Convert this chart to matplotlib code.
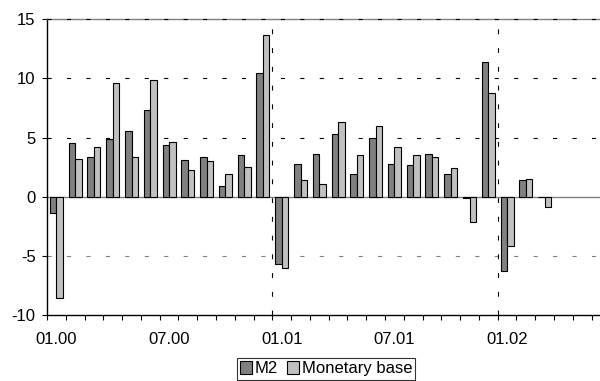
import matplotlib
matplotlib.use('Agg')
import matplotlib.pyplot as plt
import numpy as np

# monthly growth, % : Jan 2000 .. Mar 2002
m2 = [-1.4, 4.55, 3.4, 4.85, 5.55, 7.3, 4.4, 3.1, 3.4, 0.9, 3.5, 10.45,
      -5.7, 2.8, 3.6, 5.3, 1.95, 4.95, 2.8, 2.65, 3.6, 1.9, -0.15, 11.35,
      -6.3, 1.4, 0.0]
monetary_base = [-8.6, 3.2, 4.2, 9.65, 3.4, 9.9, 4.65, 2.25, 3.0, 1.9, 2.5, 13.7,
                 -6.05, 1.4, 1.05, 6.3, 3.55, 6.0, 4.2, 3.5, 3.4, 2.45, -2.15, 8.8,
                 -4.2, 1.5, -0.85]
n_months = 30  # Jan 2000 .. Jun 2002 on the axis
tick_labels = {0: '01.00', 6: '07.00', 12: '01.01', 18: '07.01', 24: '01.02'}
year_starts = [12, 24]

plt.rcParams['font.family'] = ['Liberation Sans', 'DejaVu Sans']
plt.rcParams['lines.scale_dashes'] = False
plt.rcParams['axes.unicode_minus'] = False

fig = plt.figure(figsize=(6, 3.81), dpi=100)
ax = fig.add_axes([47 / 600, 66 / 381, 563.4 / 600, 295.7 / 381])

x = np.arange(len(m2))
w = 0.346
ax.bar(x - w / 2, m2, w, color='#808080', edgecolor='black', linewidth=0.8,
       label='M2', zorder=3)
ax.bar(x + w / 2, monetary_base, w, color='#c0c0c0', edgecolor='black',
       linewidth=0.8, label='Monetary base', zorder=3)

ax.set_xlim(-0.5, n_months - 0.5)
ax.set_ylim(-10, 15)

# horizontal dashed grid
for v in [5, 10]:
    ax.axhline(v, color='black', linewidth=0.8, linestyle=(0, (3, 11)), zorder=1)
ax.axhline(15, color='black', linewidth=0.8, linestyle=(0, (3, 11)), zorder=2.6,
           clip_on=False)
ax.axhline(-5, color='#808080', linewidth=0.8, linestyle=(0, (3, 11)), zorder=1)
ax.axhline(0, color='#808080', linewidth=1.0, zorder=2)
for ys in year_starts:
    ax.axvline(ys - 0.5, color='black', linewidth=0.8, linestyle=(0, (3.5, 10)),
               zorder=1)

ax.spines['right'].set_visible(False)
ax.spines['top'].set_color('#808080')
ax.spines['top'].set_linewidth(1.0)
ax.spines['left'].set_linewidth(1.0)
ax.spines['bottom'].set_linewidth(1.0)

ax.set_yticks([-10, -5, 0, 5, 10, 15])
ax.tick_params(axis='y', direction='out', length=3.6, width=0.8, pad=4.5,
               labelsize=12)
ax.set_xticks(list(tick_labels.keys()))
ax.set_xticklabels(list(tick_labels.values()))
ax.tick_params(axis='x', which='major', length=0, pad=12.5, labelsize=12)
ax.set_xticks(np.arange(n_months + 1) - 0.5, minor=True)
ax.tick_params(axis='x', which='minor', direction='out', length=3.6, width=0.8)

leg = fig.legend(loc='upper center', bbox_to_anchor=(326 / 600, 23 / 381),
                 ncol=2, fontsize=12, frameon=True, fancybox=False,
                 handlelength=0.75, handleheight=0.75, handletextpad=0.15,
                 columnspacing=0.5, borderpad=0.2, borderaxespad=0)
leg.get_frame().set_edgecolor('black')
leg.get_frame().set_linewidth(0.8)

fig.savefig('out.png', dpi=100)
